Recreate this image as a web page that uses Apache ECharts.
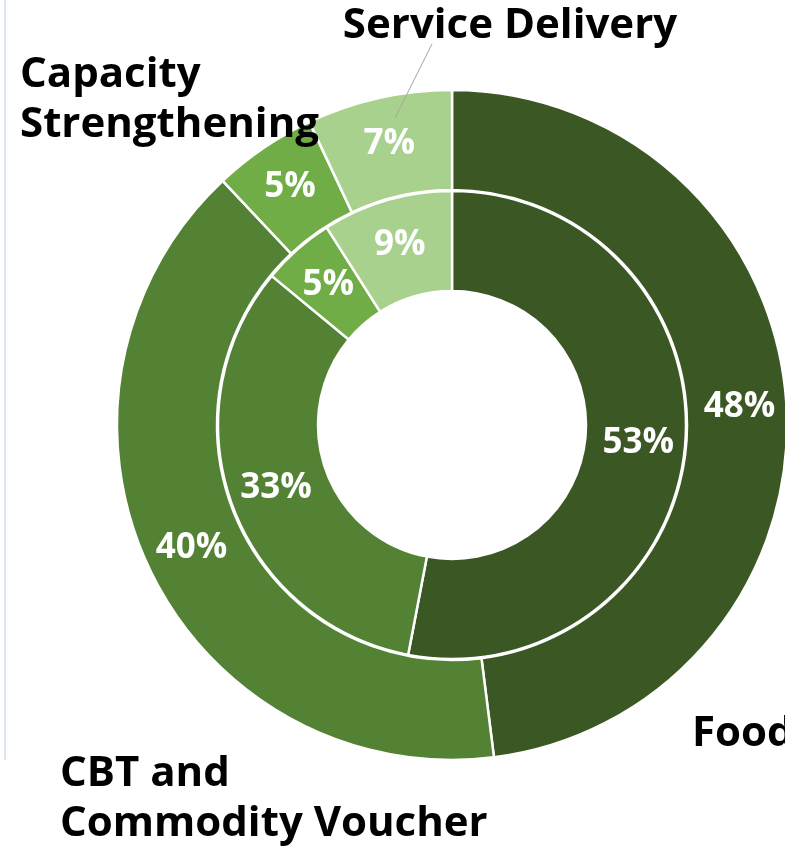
<!DOCTYPE html>
<html>
<head>
<meta charset="utf-8">
<script src="https://cdn.jsdelivr.net/npm/echarts@6/dist/echarts.min.js"></script>
<style>
  html, body { margin: 0; padding: 0; background: #ffffff; }
  #chart { width: 785px; height: 848px; }
</style>
</head>
<body>
<div id="chart"></div>
<script>
// ---- data ----
const categories = ['Food', 'CBT and\nCommodity Voucher', 'Capacity\nStrengthening', 'Service Delivery'];
const outerValues = [48, 40, 5, 7];
const innerValues = [53, 33, 5, 9];

// ---- styles ----
const colors = ['#3A5724', '#548235', '#70AD47', '#A9D18E'];
const center = [452, 425];
const nameLabelLayout = [
  { x: 692, y: 734, align: 'left' },
  { x: 60, y: 799, align: 'left' },
  { x: 20, y: 100, align: 'left' },
  { x: 510, y: 26, align: 'center', line: [[395, 118], [432, 44]] }
];

const chart = echarts.init(document.getElementById('chart'), null, { renderer: 'canvas' });

function ringData(values) {
  return values.map((v, i) => ({ name: categories[i], value: v, itemStyle: { color: colors[i] } }));
}

const pctLabel = {
  show: true,
  position: 'inside',
  formatter: '{c}%',
  color: '#ffffff',
  fontFamily: 'Open Sans',
  fontWeight: 'bold',
  fontSize: 35,
  padding: [7, 0, 0, 0]
};

const option = {
  backgroundColor: '#ffffff',
  animation: false,
  graphic: [{
    type: 'line',
    silent: true,
    shape: { x1: 5, y1: 0, x2: 5, y2: 760 },
    style: { stroke: '#DCE6F2', lineWidth: 2 }
  }],
  series: [
    {
      type: 'pie',
      center: center,
      radius: [134, 234],
      startAngle: 90,
      clockwise: true,
      avoidLabelOverlap: false,
      silent: true,
      itemStyle: { borderColor: '#ffffff', borderWidth: 2.5 },
      label: pctLabel,
      labelLine: { show: false },
      data: ringData(innerValues)
    },
    {
      type: 'pie',
      center: center,
      radius: [235, 335],
      startAngle: 90,
      clockwise: true,
      avoidLabelOverlap: false,
      silent: true,
      itemStyle: { borderColor: '#ffffff', borderWidth: 2.5 },
      label: pctLabel,
      labelLine: { show: false },
      data: ringData(outerValues)
    },
    {
      type: 'pie',
      center: center,
      radius: [235, 335],
      startAngle: 90,
      clockwise: true,
      avoidLabelOverlap: false,
      silent: true,
      z: 5,
      itemStyle: { color: 'rgba(0,0,0,0)', borderWidth: 0 },
      label: {
        show: true,
        position: 'outside',
        formatter: '{b}',
        width: 520,
        overflow: 'none',
        color: '#000000',
        fontFamily: 'Open Sans',
        fontWeight: 'bold',
        fontSize: 42,
        lineHeight: 50
      },
      labelLine: { show: false },
      labelLayout: function (p) {
        const L = nameLabelLayout[p.dataIndex];
        const out = { x: L.x, y: L.y, align: L.align, verticalAlign: 'middle' };
        if (L.line) out.labelLinePoints = L.line;
        return out;
      },
      data: outerValues.map((v, i) => ({
        name: categories[i],
        value: v,
        labelLine: i === 3 ? { show: true, lineStyle: { color: '#A6A6A6', width: 1 } } : { show: false }
      }))
    }
  ]
};
chart.setOption(option);
</script>
</body>
</html>
